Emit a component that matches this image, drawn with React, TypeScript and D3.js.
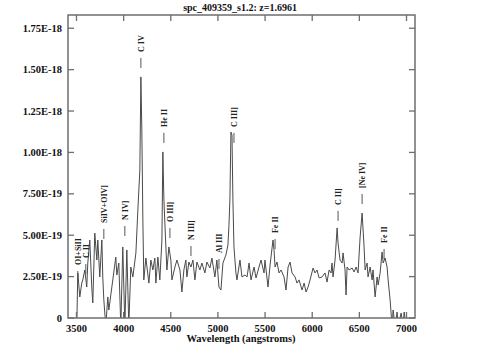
import React from "react";
import * as d3 from "d3";

const TITLE = "spc_409359_s1.2: z=1.6961";
const X_LABEL = "Wavelength (angstroms)";

// wavelength (angstroms)
const wavelength = [
  3503, 3514, 3535, 3556, 3567, 3588, 3609, 3620, 3641, 3662, 3673, 3694, 3716, 3726, 3747,
  3769, 3779, 3790, 3811, 3832, 3843, 3864, 3885, 3917, 3928, 3949, 3970, 3991, 4013, 4034,
  4055, 4076, 4098, 4130, 4151, 4172, 4183, 4193, 4204, 4214, 4236, 4268, 4289, 4310, 4331,
  4342, 4363, 4384, 4406, 4416, 4427, 4448, 4459, 4480, 4501, 4512, 4544, 4565, 4597, 4618,
  4639, 4660, 4671, 4692, 4714, 4735, 4756, 4777, 4809, 4830, 4862, 4883, 4915, 4936, 4968,
  4989, 5011, 5032, 5053, 5085, 5106, 5117, 5127, 5138, 5149, 5159, 5170, 5191, 5202, 5234,
  5255, 5287, 5309, 5330, 5351, 5383, 5404, 5436, 5457, 5489, 5499, 5531, 5553, 5584, 5595,
  5606, 5627, 5648, 5669, 5701, 5722, 5744, 5765, 5786, 5818, 5839, 5860, 5892, 5914, 5935,
  5956, 5977, 6009, 6030, 6051, 6073, 6104, 6136, 6157, 6179, 6200, 6210, 6221, 6242, 6264,
  6274, 6295, 6317, 6327, 6348, 6359, 6370, 6391, 6423, 6444, 6465, 6486, 6508, 6529, 6550,
  6561, 6582, 6592, 6614, 6635, 6645, 6667, 6688, 6699, 6720, 6741, 6752, 6773, 6794, 6805,
  6826, 6847, 6858, 6879, 6900, 6911, 6943, 6964, 6975, 6996,
];

// flux in units of 1e-19 erg/s/cm2/A
const flux = [
  -0.5, 2.72, 1.27, 2.11, 2.3, 2.9, 1.87, 3.32, 4.71, 1.87, 0.91, 5.13, 3.5, 4.71, 2.48,
  4.71, 2.48, 1.09, -0.5, 1.27, 0.48, 1.39, 2.3, 3.68, 2.6, 3.32, -0.5, 4.29, -0.5, 4.11,
  -0.5, 3.08, 2.48, 3.93, 6.52, 8.94, 14.56, 11.36, 5.92, 2.3, 3.62, 2.11, 3.5, 2.9, 3.62,
  2.11, 3.68, 2.3, 4.71, 10.03, 7.13, 4.29, 2.9, 4.29, 3.5, 2.3, 3.08, 3.5, 2.9, 1.57,
  2.9, 3.5, 2.48, 3.38, 3.08, 3.5, 2.3, 3.38, 2.9, 3.32, 2.72, 3.38, 3.02, 3.62, 2.48,
  3.5, 1.87, 1.69, 3.32, 3.81, 4.41, 5.6, 7.13, 11.23, 11.05, 7.13, 4.29, 2.72, 2.3, 3.5,
  2.48, 2.6, 2.48, 3.32, 2.3, 3.08, 2.42, 3.08, 3.5, 2.72, 3.5, 1.87, 3.2, 4.71, 4.11,
  3.08, 3.38, 2.72, 2.9, 2.48, 1.69, 3.08, 3.38, 2.72, 2.48, 2.11, 2.3, 1.69, 2.11, 1.57,
  1.87, 2.3, 3.02, 2.72, 2.9, 2.42, 2.48, 2.72, 2.17, 2.9, 2.72, 3.32, 2.48, 3.5, 5.44,
  4.53, 3.5, 3.32, 3.93, 2.9, 1.39, 3.08, 2.9, 3.02, 2.78, 3.08, 2.72, 4.89, 6.34, 4.29,
  2.9, 3.32, 2.48, 3.08, 2.3, 2.9, 1.27, 2.48, 1.99, 2.72, 3.99, 3.32, 3.62, 3.08, 2.3,
  1.09, -0.5, 0.48, -0.5, 0.36, -0.5, 0.3, -0.5, 0.36, -0.5,
];

const xTicks = [3500, 4000, 4500, 5000, 5500, 6000, 6500, 7000];
const yTicks = [0, 2.5, 5, 7.5, 10, 12.5, 15, 17.5]; // x 1e-19

// emission line annotations: name, observed wavelength, flux level of label base (1e-19)
const lineNames = ["OI+SiII", "C II", "SiIV+OIV]", "N IV]", "C IV", "He II", "O III]", "N III]", "Al III", "C III]", "Fe II", "C II]", "[Ne IV]", "Fe II"];
const lineWaves = [3514, 3599, 3790, 4013, 4183, 4427, 4491, 4714, 5011, 5170, 5606, 6274, 6529, 6762];
const lineLevels = [3.2, 3.62, 5.74, 5.92, 16.07, 11.54, 5.8, 4.71, 3.93, 11.54, 5.13, 6.83, 7.85, 4.53];

const W = 483;
const H = 358;
const M = { left: 68, right: 415, top: 15, bottom: 318 };
const FONT = "'Liberation Serif', 'DejaVu Serif', serif";
const AXIS = "#6e6e6e";

export default function App() {
  const x = d3.scaleLinear().domain([3410, 7090]).range([M.left, M.right]);
  const y = d3.scaleLinear().domain([0, 18.3]).range([M.bottom, M.top]);
  const pts: [number, number][] = wavelength.map((w, i) => [w, flux[i]]);
  const line = d3
    .line<[number, number]>()
    .x((d) => x(d[0]))
    .y((d) => y(d[1]));
  const fmt = (v: number) => (v === 0 ? "0" : d3.format(".2e")(v * 1e-19).toUpperCase());
  const tl = 6;

  return (
    <svg width={W} height={H} style={{ position: "absolute", left: 0, top: 0, background: "#fff" }}>
      <defs>
        <clipPath id="plotclip">
          <rect x={M.left} y={M.top} width={M.right - M.left} height={M.bottom - M.top} />
        </clipPath>
      </defs>
      <rect x={0} y={0} width={W} height={H} fill="#fff" />
      <text x={240} y={11} textAnchor="middle" fontFamily={FONT} fontWeight="bold" fontSize={10} fill="#111">
        {TITLE}
      </text>
      <path d={line(pts) || ""} fill="none" stroke="#4a4a4a" strokeWidth={1} clipPath="url(#plotclip)" />
      <rect
        x={M.left}
        y={M.top}
        width={M.right - M.left}
        height={M.bottom - M.top}
        fill="none"
        stroke={AXIS}
        strokeWidth={1.5}
      />
      {xTicks.map((t) => (
        <g key={"x" + t}>
          <line x1={x(t)} x2={x(t)} y1={M.bottom} y2={M.bottom - tl} stroke={AXIS} strokeWidth={1.3} />
          <line x1={x(t)} x2={x(t)} y1={M.top} y2={M.top + tl} stroke={AXIS} strokeWidth={1.3} />
          <text x={x(t)} y={332} textAnchor="middle" fontFamily={FONT} fontWeight="bold" fontSize={10.5} fill="#111">
            {t}
          </text>
        </g>
      ))}
      {yTicks.map((t) => (
        <g key={"y" + t}>
          <line x1={M.left} x2={M.left + tl} y1={y(t)} y2={y(t)} stroke={AXIS} strokeWidth={1.3} />
          <line x1={M.right} x2={M.right - tl} y1={y(t)} y2={y(t)} stroke={AXIS} strokeWidth={1.3} />
          <text x={62} y={y(t) + 3.5} textAnchor="end" fontFamily={FONT} fontWeight="bold" fontSize={10.5} fill="#111">
            {fmt(t)}
          </text>
        </g>
      ))}
      <text x={241} y={342} textAnchor="middle" fontFamily={FONT} fontWeight="bold" fontSize={10.5} fill="#111">
        {X_LABEL}
      </text>
      {lineNames.map((n, i) => {
        const lx = x(lineWaves[i]);
        const ly = y(lineLevels[i]);
        return (
          <g key={"l" + i}>
            <text
              transform={`translate(${lx},${ly}) rotate(-90)`}
              dy="0.35em"
              textAnchor="start"
              fontFamily={FONT}
              fontWeight="bold"
              fontSize={8}
              fill="#222"
            >
              {n}
            </text>
            <line x1={lx} x2={lx} y1={ly + 6} y2={ly + 16} stroke="#555" strokeWidth={1} />
          </g>
        );
      })}
    </svg>
  );
}
